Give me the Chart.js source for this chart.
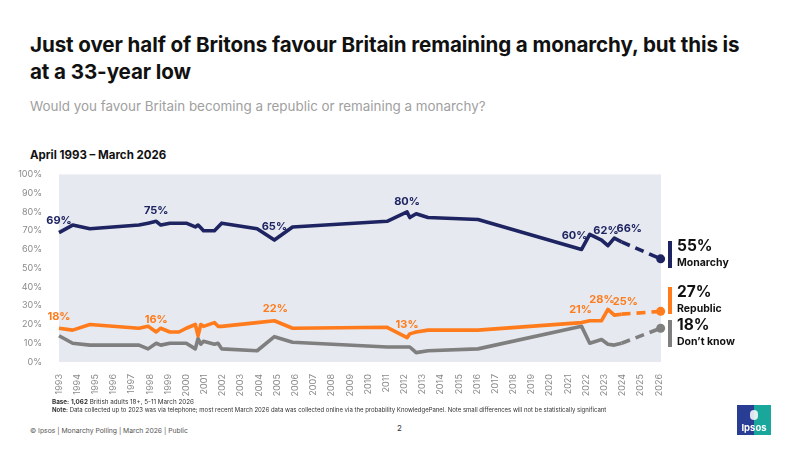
<!DOCTYPE html>
<html>
<head>
<meta charset="utf-8">
<script src="https://cdn.jsdelivr.net/npm/chart.js@4.4.1/dist/chart.umd.min.js"></script>
<style>
  html, body { margin:0; padding:0; background:#fff; }
  body { width:800px; height:450px; position:relative; overflow:hidden; font-family: Inter, "Liberation Sans", sans-serif; }
  .abs { position:absolute; white-space:nowrap; }
  #title { left:30px; top:31px; font-size:20.6px; font-weight:700; line-height:27px; color:#111; letter-spacing:-0.1px; }
  #subtitle { left:30px; top:98px; font-size:13.4px; color:#a0a0a0; }
  #period { left:30px; top:148px; font-size:11.5px; font-weight:700; color:#111; }
  #chartBox { position:absolute; left:0; top:160px; width:800px; height:240px; }
  .foot { font-size:6px; color:#333; }
  .lg-val { font-size:15.5px; font-weight:700; color:#111; line-height:18px; }
  .lg-name { font-size:10.5px; font-weight:700; color:#111; line-height:13px; }
  #logo { left:737px; top:405px; width:34px; height:30px; overflow:hidden; }
</style>
</head>
<body>
<div id="title" class="abs">Just over half of Britons favour Britain remaining a monarchy, but this is<br>at a 33-year low</div>
<div id="subtitle" class="abs">Would you favour Britain becoming a republic or remaining a monarchy?</div>
<div id="period" class="abs">April 1993 – March 2026</div>
<div id="chartBox"><canvas id="c"></canvas></div>
<div id="legend"></div>
<div class="abs foot" style="left:52px; top:398px; font-size:6.3px;"><b>Base:</b> <b>1,062</b> British adults 18+, 5-11 March 2026</div>
<div class="abs foot" style="left:52px; top:406px;"><b>Note:</b> Data collected up to 2023 was via telephone; most recent March 2026 data was collected online via the probability KnowledgePanel.  Note small differences will not be statistically significant</div>
<div class="abs foot" style="left:30px; top:426px; color:#555; font-size:6.8px;">© Ipsos | Monarchy Polling | March 2026 | Public</div>
<div class="abs" style="left:397px; top:423px; font-size:8px; color:#333;">2</div>
<div id="logo" class="abs">
  <div style="position:absolute;left:0;top:0;width:17px;height:30px;background:#2a3d95;"></div>
  <div style="position:absolute;left:17px;top:0;width:17px;height:30px;background:#19a79b;"></div>
  <div style="position:absolute;left:13px;top:5px;width:8px;height:10px;border-radius:4px;background:#fff;opacity:0.85;"></div>
  <div style="position:absolute;left:0;top:17px;width:34px;text-align:center;font-size:9.5px;font-weight:700;color:#fff;">Ipsos</div>
</div>

<script>
// ---- Data ----
const years = [1993.0, 1993.75, 1994.7, 1997.4, 1997.9, 1998.35, 1998.6, 1999.1, 1999.6, 2000.0,
               2000.5, 2000.65, 2000.8, 2000.95, 2001.55, 2001.75, 2001.95, 2003.9, 2004.85, 2005.85,
               2011.05, 2012.15, 2012.3, 2012.65, 2013.3, 2016.05, 2021.75, 2022.2, 2022.85, 2023.2,
               2023.55, 2023.95, 2026.1];
const monarchy = [69, 73, 71, 73, 74, 75, 73, 74, 74, 74,
                  72, 73, 71.5, 70, 70, 72, 74, 71, 65, 72,
                  75, 80, 77, 79, 77, 76, 60, 68, 65, 62,
                  66, 64, 55];
const republic = [18, 17, 20, 18, 19, 16, 18, 16, 16, 18,
                  20, 14, 20, 19, 21, 19, 19, 21, 22, 18,
                  18.5, 13, 15, 16, 17, 17, 21, 22, 22, 28,
                  25, 25.5, 27];
const dontKnow = [14, 10, 9, 9, 7, 10, 9, 10, 10, 10,
                  7, 12.5, 9.5, 11, 9.5, 10, 7, 6, 13.5, 10.5,
                  8, 8, 8, 5, 6, 7, 19, 10, 12, 9.5,
                  9, 10, 18];
const seriesNames = ['Monarchy', 'Republic', 'Don’t know'];
const tickYears = [];
for (let y = 1993; y <= 2026; y++) tickYears.push(y);
const yTicks = [0, 10, 20, 30, 40, 50, 60, 70, 80, 90, 100];

// Points carrying a value label: [dataset, index]
const labelled = [[0,0],[0,5],[0,18],[0,21],[0,26],[0,29],[0,30],
                  [1,0],[1,5],[1,18],[1,21],[1,26],[1,29],[1,30]];

// ---- Styling ----
const colors = ['#1e2461', '#ff7b1c', '#7f7f7f'];
const labelOffsets = {
  '0,0':[0,-12], '0,5':[0,-11], '0,18':[0,-13], '0,21':[0,-10], '0,26':[-7,-14], '0,29':[-2,-15], '0,30':[15,-9],
  '1,0':[0,-12], '1,5':[0,-12], '1,18':[1,-12], '1,21':[0,-13], '1,26':[-1,-13], '1,29':[-6,-10], '1,30':[11,-13]
};
const legendPos = [ {bar:241, val:237, name:256}, {bar:287, val:283, name:302}, {bar:320, val:316, name:335} ];
const FONT = 'Inter, "Liberation Sans", sans-serif';

const allValues = [monarchy, republic, dontKnow];
const last = years.length - 1;

function makeDataset(i) {
  const vals = allValues[i];
  return {
    label: seriesNames[i],
    data: years.map((x, k) => ({x: x, y: vals[k]})),
    borderColor: colors[i],
    backgroundColor: colors[i],
    borderWidth: 3.6,
    tension: 0,
    clip: false,
    borderJoinStyle: 'round',
    pointRadius: ctx => ctx.dataIndex === last ? 4.5 : 0,
    pointHoverRadius: 0,
    pointBorderWidth: 0,
    pointBackgroundColor: colors[i],
    segment: { borderDash: ctx => ctx.p1DataIndex === last ? [9, 6] : undefined }
  };
}

const bgPlugin = {
  id: 'plotBg',
  beforeDraw(chart) {
    const {ctx, chartArea:a} = chart;
    ctx.save();
    ctx.fillStyle = '#e6e9ef';
    ctx.fillRect(a.left, a.top, a.right - a.left, a.bottom - a.top);
    ctx.restore();
  }
};

const labelPlugin = {
  id: 'valueLabels',
  afterDatasetsDraw(chart) {
    const ctx = chart.ctx;
    ctx.save();
    ctx.font = '700 11px ' + FONT;
    ctx.textAlign = 'center';
    ctx.textBaseline = 'middle';
    labelled.forEach(([d, i]) => {
      const pt = chart.getDatasetMeta(d).data[i];
      const off = labelOffsets[d + ',' + i] || [0, -12];
      ctx.fillStyle = colors[d];
      ctx.fillText(Math.round(allValues[d][i]) + '%', pt.x + off[0], pt.y + off[1]);
    });
    ctx.restore();
  }
};

new Chart(document.getElementById('c'), {
  type: 'line',
  data: { datasets: [0, 1, 2].map(makeDataset) },
  options: {
    responsive: true,
    maintainAspectRatio: false,
    animation: false,
    events: [],
    layout: { padding: { top: 10, right: 139, left: 0, bottom: 0 } },
    plugins: { legend: { display: false }, tooltip: { enabled: false } },
    scales: {
      x: {
        type: 'linear',
        min: 1993,
        max: 2026.12,
        afterBuildTicks: s => { s.ticks = tickYears.map(v => ({value: v})); },
        afterFit: s => { s.height = 38; },
        grid: { display: false },
        border: { display: false },
        ticks: {
          autoSkip: false, maxRotation: 90, minRotation: 90, padding: 4,
          color: '#8a8a8a', font: { size: 9, family: FONT },
          callback: v => String(v)
        }
      },
      y: {
        min: 0, max: 100,
        afterBuildTicks: s => { s.ticks = yTicks.map(v => ({value: v})); },
        afterFit: s => { s.width = 59; },
        grid: { display: false },
        border: { display: false },
        ticks: {
          padding: 9, color: '#8a8a8a', font: { size: 9, family: FONT },
          callback: v => v + '%'
        }
      }
    }
  },
  plugins: [bgPlugin, labelPlugin]
});

// Right-hand legend built from the series
const lg = document.getElementById('legend');
seriesNames.forEach((name, i) => {
  const p = legendPos[i];
  const bar = document.createElement('div');
  bar.className = 'abs';
  bar.style.cssText = `left:668px;top:${p.bar}px;width:4px;height:27px;background:${colors[i]};`;
  lg.appendChild(bar);
  const v = document.createElement('div');
  v.className = 'abs lg-val';
  v.style.cssText = `left:677px;top:${p.val}px;`;
  v.textContent = allValues[i][last] + '%';
  lg.appendChild(v);
  const n = document.createElement('div');
  n.className = 'abs lg-name';
  n.style.cssText = `left:677px;top:${p.name}px;`;
  n.textContent = name;
  lg.appendChild(n);
});
</script>
</body>
</html>
